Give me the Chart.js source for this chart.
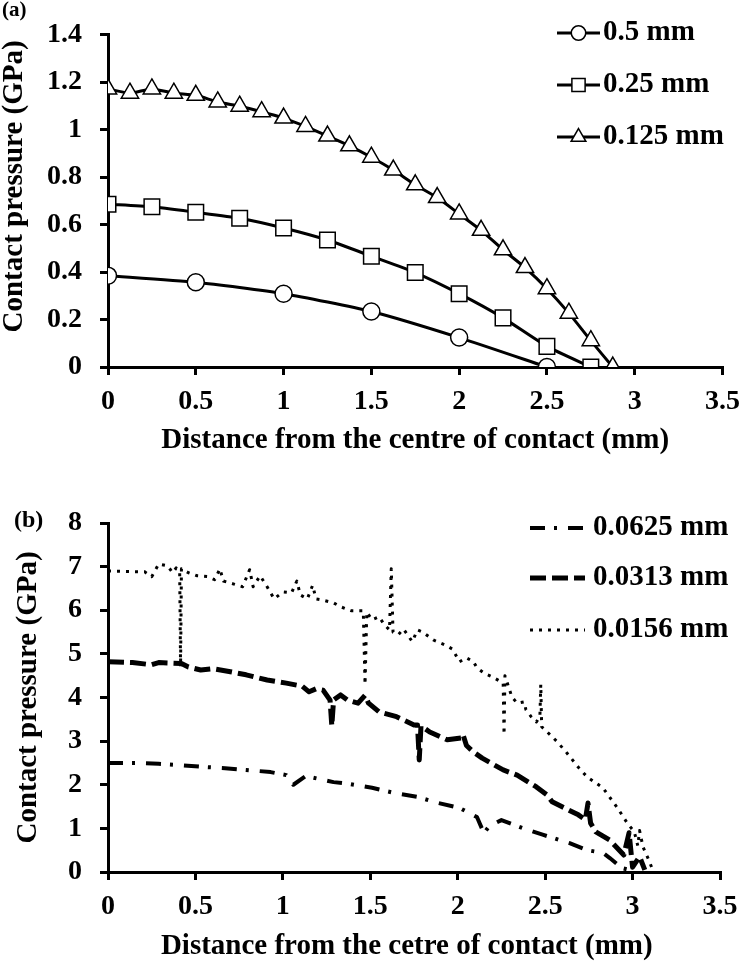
<!DOCTYPE html>
<html>
<head>
<meta charset="utf-8">
<script src="https://cdn.jsdelivr.net/npm/chart.js@4/dist/chart.umd.min.js"></script>
<style>
  body { margin: 0; background: #fff; }
  .wrap { position: relative; width: 750px; height: 964px; }
  canvas { position: absolute; left: 0; }
  #chartA { top: 0; }
  #chartB { top: 470px; }
</style>
</head>
<body>
<div class="wrap">
  <canvas id="chartA" width="750" height="460"></canvas>
  <canvas id="chartB" width="750" height="494"></canvas>
</div>
<script>
// tick values
const xTicks = [0, 0.5, 1, 1.5, 2, 2.5, 3, 3.5];
const yTicksA = [0, 0.2, 0.4, 0.6, 0.8, 1, 1.2, 1.4];
const yTicksB = [0, 1, 2, 3, 4, 5, 6, 7, 8];

// (a) mesh sizes 0.5 / 0.25 / 0.125 mm
const xA05 = [0, 0.5, 1, 1.5, 2, 2.5];
const yA05 = [0.385, 0.357, 0.309, 0.234, 0.124, 0];
const xA025 = [0, 0.25, 0.5, 0.75, 1, 1.25, 1.5, 1.75, 2, 2.25, 2.5, 2.75];
const yA025 = [0.686, 0.675, 0.652, 0.627, 0.586, 0.535, 0.467, 0.398, 0.309, 0.207, 0.087, 0];
const xA0125 = [0, 0.125, 0.25, 0.375, 0.5, 0.625, 0.75, 0.875, 1, 1.125, 1.25, 1.375,
                1.5, 1.625, 1.75, 1.875, 2, 2.125, 2.25, 2.375, 2.5, 2.625, 2.75, 2.875];
const yA0125 = [1.172, 1.154, 1.172, 1.154, 1.145, 1.117, 1.099, 1.076, 1.049, 1.014, 0.973, 0.932,
                0.884, 0.83, 0.768, 0.714, 0.645, 0.576, 0.494, 0.419, 0.33, 0.227, 0.111, 0];

// (b) mesh sizes 0.0625 / 0.0313 / 0.0156 mm
const xB0625 = [0, 0.16, 0.29, 0.41, 0.54, 0.67, 0.79, 0.93, 1.02, 1.06, 1.13, 1.29, 1.38, 1.51, 1.64,
                1.77, 1.89, 2.01, 2.11, 2.15, 2.18, 2.25, 2.37, 2.49, 2.64, 2.74, 2.83, 2.87, 2.94, 3.0];
const yB0625 = [2.5, 2.5, 2.48, 2.45, 2.41, 2.38, 2.34, 2.29, 2.22, 2.0, 2.2, 2.06, 2.02, 1.93, 1.81,
                1.72, 1.58, 1.47, 1.26, 0.89, 1.05, 1.19, 1.01, 0.85, 0.66, 0.5, 0.44, 0.32, 0.09, 0.03];
const xB0313 = [0, 0.14, 0.25, 0.29, 0.42, 0.46, 0.53, 0.6, 0.7, 0.79, 0.91, 1.02, 1.11, 1.15, 1.19,
                1.23, 1.27, 1.28, 1.29, 1.33, 1.37, 1.43, 1.47, 1.49, 1.55, 1.65, 1.75, 1.77, 1.78, 1.79,
                1.84, 1.94, 2.02, 2.03, 2.05, 2.09, 2.14, 2.26, 2.34, 2.45, 2.51, 2.54, 2.6, 2.69, 2.73,
                2.745, 2.76, 2.79, 2.87, 2.95, 2.98, 3.0, 3.04, 3.07];
const yB0313 = [4.82, 4.8, 4.75, 4.8, 4.78, 4.7, 4.63, 4.66, 4.59, 4.52, 4.4, 4.33, 4.26, 4.13, 4.2,
                4.17, 3.94, 3.35, 3.94, 4.06, 3.94, 3.87, 4.05, 3.87, 3.67, 3.56, 3.37, 3.37, 2.57, 3.35,
                3.21, 3.03, 3.07, 3.15, 2.9, 2.75, 2.61, 2.34, 2.22, 1.95, 1.77, 1.61, 1.49, 1.31, 1.2,
                1.58, 1.12, 0.92, 0.73, 0.39, 0.9, 0.11, 0.35, 0.05];
const xB0156 = [0, 0.21, 0.25, 0.29, 0.34, 0.37, 0.39, 0.41, 0.415, 0.42, 0.46, 0.51, 0.57, 0.61, 0.64,
                0.66, 0.72, 0.77, 0.81, 0.83, 0.87, 0.91, 0.95, 1.0, 1.05, 1.08, 1.10, 1.14, 1.17, 1.19,
                1.22, 1.29, 1.33, 1.39, 1.46, 1.47, 1.48, 1.51, 1.55, 1.58, 1.61, 1.62, 1.63, 1.66, 1.69,
                1.74, 1.77, 1.8, 1.86, 1.93, 1.97, 2.01, 2.05, 2.09, 2.11, 2.15, 2.2, 2.26, 2.265, 2.27,
                2.31, 2.34, 2.38, 2.39, 2.42, 2.45, 2.47, 2.475, 2.48, 2.53, 2.57, 2.62, 2.69, 2.74, 2.83,
                2.91, 2.97, 3.01, 3.03, 3.04, 3.06, 3.09, 3.11];
const yB0156 = [6.9, 6.88, 6.77, 7.06, 7.02, 6.86, 6.97, 6.88, 4.7, 6.95, 6.86, 6.79, 6.77, 6.7, 6.95,
                6.67, 6.6, 6.54, 6.93, 6.54, 6.79, 6.54, 6.26, 6.42, 6.4, 6.67, 6.35, 6.26, 6.57, 6.26,
                6.24, 6.17, 6.08, 5.99, 5.99, 4.3, 5.96, 5.78, 5.85, 5.67, 5.55, 6.95, 5.5, 5.44, 5.57,
                5.28, 5.55, 5.5, 5.32, 5.2, 5.11, 4.82, 4.91, 4.82, 4.68, 4.56, 4.47, 4.33, 3.15, 4.5,
                4.01, 3.87, 3.9, 3.72, 3.56, 3.44, 3.56, 4.3, 3.33, 3.14, 2.98, 2.75, 2.4, 2.18, 1.93,
                1.49, 1.12, 0.92, 0.6, 0.95, 0.57, 0.3, 0.1];

const serif = '"Liberation Serif", "Times New Roman", serif';
const tickFont = { family: serif, size: 28, weight: 'bold' };
const titleFont = { family: serif, size: 29, weight: 'bold', lineHeight: 1.2 };

const pts = (xs, ys) => xs.map((x, i) => ({ x: x, y: ys[i] }));

// legend drawn at fixed spot inside the plot, plus the panel letter
const sideLegend = {
  id: 'sideLegend',
  afterDraw(chart, args, opts) {
    const ctx = chart.ctx;
    ctx.save();
    chart.data.datasets.forEach((ds, i) => {
      const y = opts.rows[i];
      ctx.strokeStyle = '#000';
      ctx.lineWidth = ds.borderWidth;
      ctx.lineCap = 'butt';
      ctx.setLineDash(ds.borderDash || []);
      ctx.beginPath();
      ctx.moveTo(opts.x0, y);
      ctx.lineTo(opts.x1, y);
      ctx.stroke();
      ctx.setLineDash([]);
      if (ds.pointRadius > 0) {
        ctx.fillStyle = '#fff';
        ctx.lineWidth = ds.pointBorderWidth;
        Chart.helpers.drawPoint(ctx, { pointStyle: ds.pointStyle, radius: ds.pointRadius * 0.85, borderWidth: ds.pointBorderWidth, rotation: 0 }, (opts.x0 + opts.x1) / 2, y);
      }
      ctx.fillStyle = '#000';
      ctx.font = 'bold 29px ' + serif;
      ctx.textBaseline = 'middle';
      ctx.textAlign = 'left';
      ctx.fillText(ds.label, opts.textX, y);
    });
    ctx.font = 'bold ' + opts.tagSize + 'px ' + serif;
    ctx.fillText(opts.tag, opts.tagX, opts.tagY);
    ctx.restore();
  }
};

function makeScales(yTicks, yMax, xTitle, yTitle, xHeight, yTitlePad, xTitlePad) {
  const gridOpts = { display: true, drawOnChartArea: false, drawTicks: true, tickLength: 8, color: '#000', lineWidth: 3 };
  return {
    x: {
      type: 'linear', min: 0, max: 3.5,
      afterBuildTicks: s => { s.ticks = xTicks.map(v => ({ value: v })); },
      afterFit: s => { s.height = xHeight; },
      border: { display: true, color: '#000', width: 3 },
      grid: gridOpts,
      ticks: { color: '#000', font: tickFont, padding: 10, maxRotation: 0, autoSkip: false, callback: v => String(v) },
      title: { display: true, text: xTitle, color: '#000', font: titleFont, padding: { top: 0, bottom: xTitlePad } }
    },
    y: {
      type: 'linear', min: 0, max: yMax,
      afterBuildTicks: s => { s.ticks = yTicks.map(v => ({ value: v })); },
      afterFit: s => { s.width = 108; },
      border: { display: true, color: '#000', width: 3 },
      grid: gridOpts,
      ticks: { color: '#000', font: tickFont, padding: 18, autoSkip: false, callback: v => String(v) },
      title: { display: true, text: yTitle, color: '#000', font: { family: serif, size: 29, weight: 'bold', lineHeight: 1.0 }, padding: { top: yTitlePad, bottom: 0 } }
    }
  };
}

new Chart(document.getElementById('chartA'), {
  type: 'line',
  data: {
    datasets: [
      { label: '0.5 mm', data: pts(xA05, yA05), borderColor: '#000', borderWidth: 3, tension: 0.2,
        pointStyle: 'circle', pointRadius: 8.5, pointBorderWidth: 1.5, pointBackgroundColor: '#fff', pointBorderColor: '#000' },
      { label: '0.25 mm', data: pts(xA025, yA025), borderColor: '#000', borderWidth: 3, tension: 0.2,
        pointStyle: 'rect', pointRadius: 11, pointBorderWidth: 1.5, pointBackgroundColor: '#fff', pointBorderColor: '#000' },
      { label: '0.125 mm', data: pts(xA0125, yA0125), borderColor: '#000', borderWidth: 3, tension: 0.2,
        pointStyle: 'triangle', pointRadius: 10, pointBorderWidth: 1.5, pointBackgroundColor: '#fff', pointBorderColor: '#000' }
    ]
  },
  options: {
    responsive: false,
    animation: false,
    layout: { padding: { top: 26, right: 22, left: 0, bottom: 0 } },
    scales: makeScales(yTicksA, 1.4, 'Distance from the centre of contact (mm)', '    Contact pressure (GPa)', 93, 0, 2),
    plugins: {
      legend: { display: false },
      tooltip: { enabled: false },
      sideLegend: { rows: [33, 85, 137], x0: 557, x1: 600, textX: 603, tag: '(a)', tagSize: 21, tagX: 2, tagY: 11 }
    }
  },
  plugins: [sideLegend]
});

new Chart(document.getElementById('chartB'), {
  type: 'line',
  data: {
    datasets: [
      { label: '0.0625 mm', data: pts(xB0625, yB0625), borderColor: '#000', borderWidth: 4, borderDash: [15, 9, 3, 11],
        borderJoinStyle: 'round', pointRadius: 0 },
      { label: '0.0313 mm', data: pts(xB0313, yB0313), borderColor: '#000', borderWidth: 5, borderDash: [16, 6],
        borderJoinStyle: 'round', pointRadius: 0 },
      { label: '0.0156 mm', data: pts(xB0156, yB0156), borderColor: '#000', borderWidth: 3, borderDash: [3, 6],
        borderJoinStyle: 'round', pointRadius: 0 }
    ]
  },
  options: {
    responsive: false,
    animation: false,
    layout: { padding: { top: 53, right: 30, left: 0, bottom: 0 } },
    scales: makeScales(yTicksB, 8, 'Distance from the cetre of contact (mm)  ', 'Contact pressure (GPa)', 92, 14, 0),
    plugins: {
      legend: { display: false },
      tooltip: { enabled: false },
      sideLegend: { rows: [58, 108, 160], x0: 530, x1: 585, textX: 593, tag: '(b)', tagSize: 24, tagX: 14, tagY: 51 }
    }
  },
  plugins: [sideLegend]
});
</script>
</body>
</html>
